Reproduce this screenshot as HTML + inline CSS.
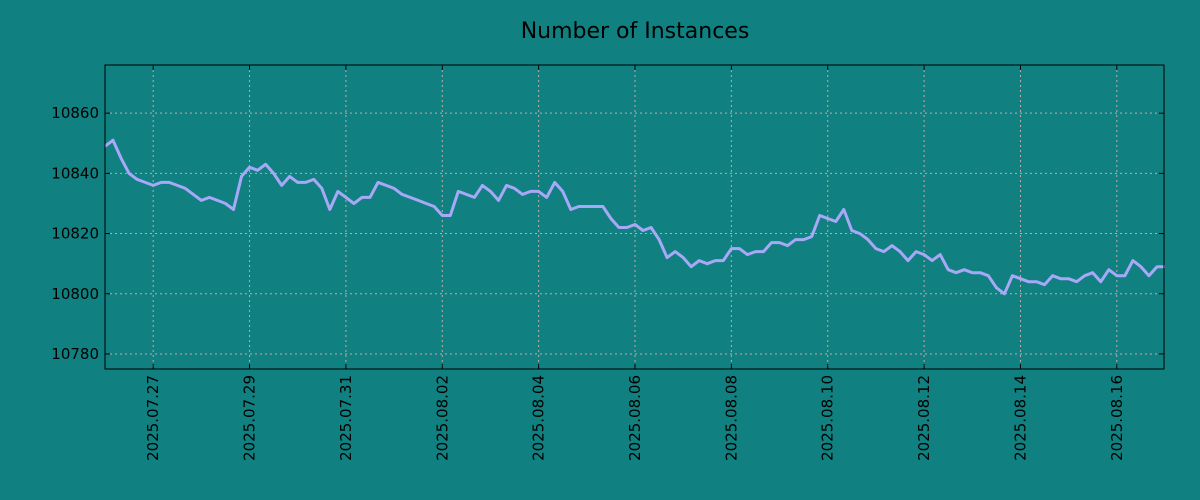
<!DOCTYPE html>
<html><head><meta charset="utf-8"><style>
body{margin:0;background:#108080;}
svg{display:block;font-family:"DejaVu Sans","Liberation Sans",sans-serif;}
</style></head><body>
<svg id="c" width="1200" height="500"></svg>
<script>
const values=[10849,10851,10845,10840,10838,10837,10836,10837,10837,10836,10835,10833,10831,10832,10831,10830,10828,10839,10842,10841,10843,10840,10836,10839,10837,10837,10838,10835,10828,10834,10832,10830,10832,10832,10837,10836,10835,10833,10832,10831,10830,10829,10826,10826,10834,10833,10832,10836,10834,10831,10836,10835,10833,10834,10834,10832,10837,10834,10828,10829,10829,10829,10829,10825,10822,10822,10823,10821,10822,10818,10812,10814,10812,10809,10811,10810,10811,10811,10815,10815,10813,10814,10814,10817,10817,10816,10818,10818,10819,10826,10825,10824,10828,10821,10820,10818,10815,10814,10816,10814,10811,10814,10813,10811,10813,10808,10807,10808,10807,10807,10806,10802,10800,10806,10805,10804,10804,10803,10806,10805,10805,10804,10806,10807,10804,10808,10806,10806,10811,10809,10806,10809,10809];
const stepHours=4;
const yTicks=[10780,10800,10820,10840,10860];
const xTickLabels=["2025.07.27","2025.07.29","2025.07.31","2025.08.02","2025.08.04","2025.08.06","2025.08.08","2025.08.10","2025.08.12","2025.08.14","2025.08.16"];
const xTickHours=[24,72,120,168,216,264,312,360,408,456,504];
const L=105,R=1164,T=65,B=369;
const xMin=0,xMax=527.5,yMin=10775,yMax=10876;
const X=h=>L+(h-xMin)/(xMax-xMin)*(R-L);
const Y=v=>B-(v-yMin)/(yMax-yMin)*(B-T);
const NS="http://www.w3.org/2000/svg";
const svg=document.getElementById('c');
function mk(t,a,p){const e=document.createElementNS(NS,t);for(const k in a)e.setAttribute(k,a[k]);(p||svg).appendChild(e);return e;}
const title=mk('text',{x:635,y:38,'text-anchor':'middle','font-size':22,fill:'#000'});


title.textContent='Number of Instances';
const grid=mk('g',{});


yTicks.forEach(v=>{const y=Y(v);
 mk('line',{x1:L,x2:R,y1:y,y2:y,stroke:'#c8a8a8','stroke-dasharray':'2,3','stroke-width':1},grid);
 mk('line',{x1:L,x2:L+5,y1:y,y2:y,stroke:'#000'});mk('line',{x1:R-5,x2:R,y1:y,y2:y,stroke:'#000'});
 const t=mk('text',{x:L-6,y:y+5,'text-anchor':'end','font-size':15,fill:'#000'});
 
 
 t.textContent=v;});
xTickHours.forEach((h,i)=>{const x=X(h);
 mk('line',{x1:x,x2:x,y1:T,y2:B,stroke:'#c8a8a8','stroke-dasharray':'2,3','stroke-width':1},grid);
 mk('line',{x1:x,x2:x,y1:B-5,y2:B,stroke:'#000'});mk('line',{x1:x,x2:x,y1:T,y2:T+5,stroke:'#000'});
 const t=mk('text',{transform:`translate(${x+5},${B+6}) rotate(-90)`,'text-anchor':'end','font-size':15,fill:'#000'});
 
 
 t.textContent=xTickLabels[i];});
const pts=values.map((v,i)=>X(i*stepHours).toFixed(1)+','+Y(v).toFixed(1)).join(' ');
const line=mk('polyline',{points:pts,fill:'none',stroke:'#a8a8f8','stroke-width':3,'stroke-linejoin':'round'});


const frame=mk('rect',{x:L,y:T,width:R-L,height:B-T,fill:'none',stroke:'#000','stroke-width':1});


</script>
</body></html>
